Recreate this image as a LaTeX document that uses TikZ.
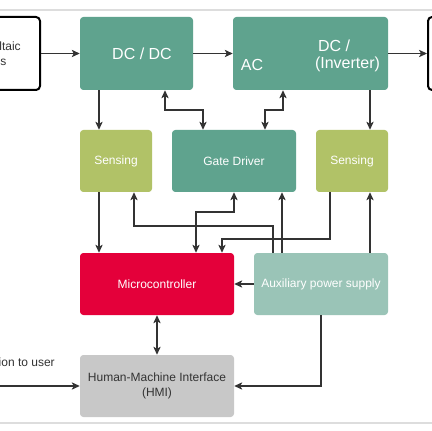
\documentclass[tikz,border=0pt]{standalone}
\usepackage{fontspec}
\setmainfont{Liberation Sans}
\usetikzlibrary{arrows.meta}
\definecolor{teal1}{HTML}{5FA38E}
\definecolor{olive1}{HTML}{B1C267}
\definecolor{red1}{HTML}{E4003A}
\definecolor{lteal}{HTML}{9AC4B7}
\definecolor{gray1}{HTML}{C8C8C8}
\definecolor{ink}{HTML}{333333}
\definecolor{rule}{HTML}{DDDDDD}
\tikzset{
  blk/.style={rectangle, rounded corners=2.5pt, inner sep=0pt, draw=none, text=white, font=\fontsize{9}{11}\selectfont, align=center},
  bigtxt/.style={font=\fontsize{12}{14}\selectfont, text=white, inner sep=0pt},
  outbox/.style={rectangle, rounded corners=3pt, inner sep=0pt, draw=black, line width=1.5pt, text=ink, font=\fontsize{9}{11.5}\selectfont, align=center},
  conn/.style={draw=ink, line width=0.8pt, -{Stealth[length=6pt,width=5.5pt,inset=1.5pt]}},
  conn2/.style={draw=ink, line width=0.8pt, {Stealth[length=6pt,width=5.5pt,inset=1.5pt]}-{Stealth[length=6pt,width=5.5pt,inset=1.5pt]}},
}
\begin{document}
\begin{tikzpicture}[x=0.75pt,y=-0.75pt]
\useasboundingbox (0,0) rectangle (432,431);
\clip (0,0) rectangle (432,431);
\fill[white] (0,0) rectangle (432,431);
\draw[rule, line width=0.8pt] (0,10) -- (432,10);
\draw[rule, line width=0.8pt] (0,423) -- (432,423);
% boxes
\node[outbox, minimum width=104*0.75pt, minimum height=73*0.75pt] (pv) at (-12,53.5) {Photovoltaic\\Panels};
\node[outbox, minimum width=104*0.75pt, minimum height=73*0.75pt] (rt) at (480,53.5) {};
\node[blk, fill=teal1, minimum width=113*0.75pt, minimum height=73*0.75pt] (dcdc) at (136.5,53.5) {};
\node[bigtxt] (dcdct) at (142,54) {DC / DC};
\node[blk, fill=teal1, minimum width=155*0.75pt, minimum height=73*0.75pt] (inv) at (310.5,53.5) {};
\node[bigtxt] (invt1) at (334,45.5) {DC /};
\node[bigtxt] (invt2) at (347.5,64.5) {(Inverter)};
\node[bigtxt] (invt3) at (252,64.5) {AC};
\node[blk, fill=olive1, minimum width=72*0.75pt, minimum height=62*0.75pt] (sens1) at (116,161) {Sensing};
\node[blk, fill=teal1, minimum width=124*0.75pt, minimum height=62*0.75pt] (gate) at (234,161) {Gate Driver};
\node[blk, fill=olive1, minimum width=72*0.75pt, minimum height=62*0.75pt] (sens2) at (352,161) {Sensing};
\node[blk, fill=red1, minimum width=154*0.75pt, minimum height=62*0.75pt] (micro) at (157,284) {Microcontroller};
\node[blk, fill=lteal, minimum width=134*0.75pt, minimum height=62*0.75pt] (aux) at (321,284) {Auxiliary power supply};
\node[blk, fill=gray1, text=ink, minimum width=154*0.75pt, minimum height=62*0.75pt] (hmi) at (157,386) {Human-Machine Interface\\(HMI)};
\node[anchor=east, inner sep=0pt, text=ink, font=\fontsize{9}{11}\selectfont] (info) at (55,362) {Information to user};
\coordinate (u) at (-5,386);
% connectors
\draw[conn] (pv.east) -- (dcdc.west);
\draw[conn] (dcdc.east) -- (inv.west);
\draw[conn] (inv.east) -- (rt.west);
\draw[conn] (dcdc.south -| 99,0) -- (sens1.north -| 99,0);
\draw[conn2] (dcdc.south -| 165,0) |- (203,110) -- (gate.north -| 203,0);
\draw[conn2] (inv.south -| 283,0) |- (265,110) -- (gate.north -| 265,0);
\draw[conn] (inv.south -| 370,0) -- (sens2.north -| 370,0);
\draw[conn] (sens1.south -| 99,0) -- (micro.north -| 99,0);
\draw[conn] (aux.north -| 273,0) |- (134,226) -- (sens1.south -| 134,0);
\draw[conn2] (gate.south -| 234,0) |- (196,212) -- (micro.north -| 196,0);
\draw[conn] (aux.north -| 282,0) -- (gate.south -| 282,0);
\draw[conn] (sens2.south -| 330,0) |- (222,239) -- (micro.north -| 222,0);
\draw[conn] (aux.north -| 370,0) -- (sens2.south -| 370,0);
\draw[conn] (aux.west) -- (micro.east);
\draw[conn] (aux.south) |- (hmi.east);
\draw[conn2] (micro.south) -- (hmi.north);
\draw[conn] (u) -- (hmi.west);
\end{tikzpicture}
\end{document}
